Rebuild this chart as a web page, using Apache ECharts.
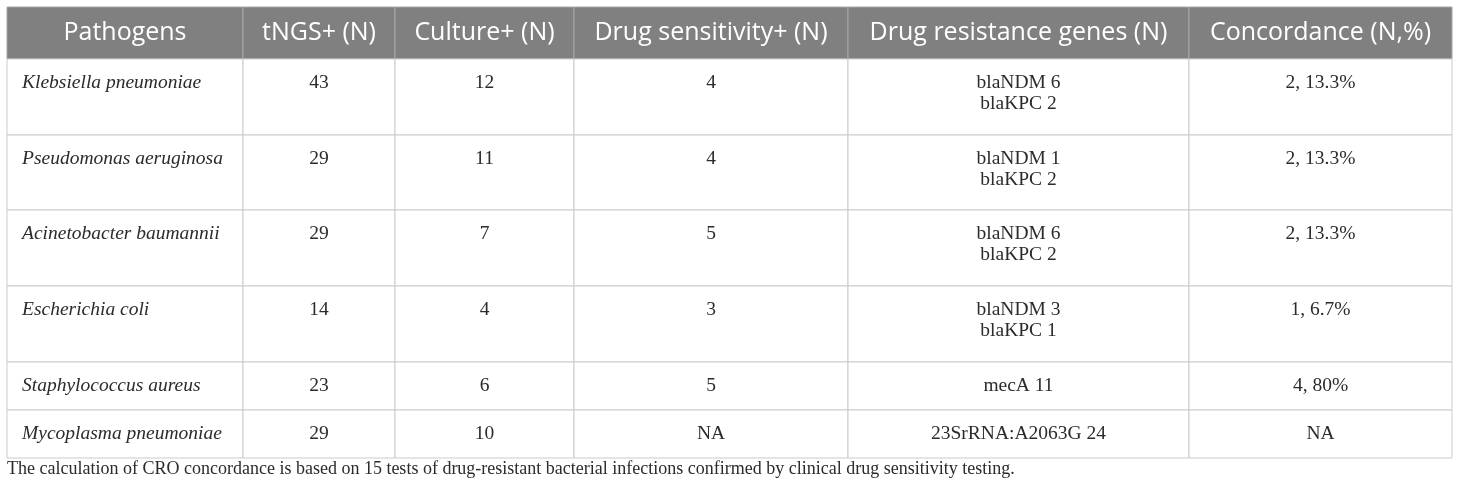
<!DOCTYPE html>
<html>
<head>
<meta charset="utf-8">
<script src="https://cdn.jsdelivr.net/npm/echarts@6/dist/echarts.min.js"></script>
<style>
  html, body { margin: 0; padding: 0; background: #fff; }
  #chart { width: 1460px; height: 496px; }
</style>
</head>
<body>
<div id="chart"></div>
<script>
const headers = ['Pathogens', 'tNGS+ (N)', 'Culture+ (N)', 'Drug sensitivity+ (N)', 'Drug resistance genes (N)', 'Concordance (N,%)'];
const pathogens = ['Klebsiella pneumoniae', 'Pseudomonas aeruginosa', 'Acinetobacter baumannii', 'Escherichia coli', 'Staphylococcus aureus', 'Mycoplasma pneumoniae'];
const tngsPos = [43, 29, 29, 14, 23, 29];
const culturePos = [12, 11, 7, 4, 6, 10];
const drugSensPos = ['4', '4', '5', '3', '5', 'NA'];
const resistGenes = ['blaNDM 6\nblaKPC 2', 'blaNDM 1\nblaKPC 2', 'blaNDM 6\nblaKPC 2', 'blaNDM 3\nblaKPC 1', 'mecA 11', '23SrRNA:A2063G 24'];
const concordance = ['2, 13.3%', '2, 13.3%', '2, 13.3%', '1, 6.7%', '4, 80%', 'NA'];
const footnote = 'The calculation of CRO concordance is based on 15 tests of drug-resistant bacterial infections confirmed by clinical drug sensitivity testing.';

// layout: column widths and row heights in axis units
const colWidths = [236, 152, 179, 274, 341, 263];
const rowHeights = [52, 76, 75, 76, 76, 48, 48];

const edges = arr => arr.reduce((acc, w) => { acc.push(acc[acc.length - 1] + w); return acc; }, [0]);
const colEdges = edges(colWidths);
const rowEdges = edges(rowHeights);

const cells = [];
const cellTexts = [];
headers.forEach((h, c) => { cells.push([c, 0]); cellTexts.push(h); });
pathogens.forEach((p, i) => {
  const row = [p, String(tngsPos[i]), String(culturePos[i]), drugSensPos[i], resistGenes[i], concordance[i]];
  row.forEach((t, c) => { cells.push([c, i + 1]); cellTexts.push(t); });
});

const chart = echarts.init(document.getElementById('chart'));

const renderCell = (params, api) => {
  const col = api.value(0);
  const row = api.value(1);
  const p0 = api.coord([colEdges[col], rowEdges[row]]);
  const p1 = api.coord([colEdges[col + 1], rowEdges[row + 1]]);
  const isHeader = row === 0;
  const text = cellTexts[params.dataIndex];
  const lh = 21;
  const textX = (col === 0 && !isHeader) ? p0[0] + 15 : (p0[0] + p1[0]) / 2;
  const textY = isHeader ? (p0[1] + p1[1]) / 2 : p0[1] + 24 - lh / 2;
  return {
    type: 'group',
    children: [
      {
        type: 'rect',
        shape: { x: p0[0], y: p0[1], width: p1[0] - p0[0], height: p1[1] - p0[1] },
        style: {
          fill: isHeader ? '#808080' : '#ffffff',
          stroke: isHeader ? '#a6a6a6' : '#cbcbcb',
          lineWidth: 1
        }
      },
      {
        type: 'text',
        style: {
          x: textX,
          y: textY,
          text: text,
          align: (col === 0 && !isHeader) ? 'left' : 'center',
          verticalAlign: isHeader ? 'middle' : 'top',
          lineHeight: lh,
          fill: isHeader ? '#ffffff' : '#2b2b2b',
          fontFamily: isHeader ? '"Open Sans", sans-serif' : '"Liberation Serif", serif',
          fontStyle: (col === 0 && !isHeader) ? 'italic' : 'normal',
          fontSize: isHeader ? 25 : 19.5
        }
      }
    ]
  };
};

chart.setOption({
  animation: false,
  backgroundColor: '#ffffff',
  title: {
    text: footnote,
    left: 7,
    top: 458,
    padding: 0,
    textStyle: {
      fontFamily: '"Liberation Serif", serif',
      fontSize: 18,
      lineHeight: 22,
      fontWeight: 'normal',
      color: '#2b2b2b'
    }
  },
  grid: { left: 7, right: 8, top: 7, bottom: 38 },
  xAxis: { type: 'value', min: 0, max: colEdges[colEdges.length - 1], show: false },
  yAxis: { type: 'value', min: 0, max: rowEdges[rowEdges.length - 1], inverse: true, show: false },
  series: [
    {
      type: 'custom',
      renderItem: renderCell,
      data: cells,
      silent: true
    }
  ]
});
</script>
</body>
</html>
